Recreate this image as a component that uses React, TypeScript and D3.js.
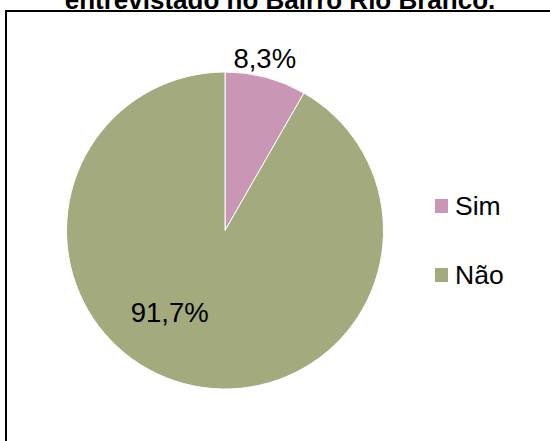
import React from "react";
import * as d3 from "d3";

const categories = ["Sim", "Não"];
const values = [8.3, 91.7];
const valueLabels = ["8,3%", "91,7%"];
const colors = ["#C997B5", "#A2AA7E"];
const title = "entrevistado no Bairro Rio Branco.";

const W = 550;
const H = 441;

interface Slice {
  label: string;
  value: number;
  text: string;
}

const App: React.FC = () => {
  const cx = 225;
  const cy = 230.5;
  const radius = 158.5;

  const data: Slice[] = categories.map((c, i) => ({
    label: c,
    value: values[i],
    text: valueLabels[i],
  }));

  const pie = d3.pie<Slice>().value((d) => d.value).sort(null);
  const arc = d3.arc<d3.PieArcDatum<Slice>>().innerRadius(0).outerRadius(radius);
  const arcs = pie(data);

  // outside label for the small slice, inside (best fit) for the big one
  const outsideArc = d3
    .arc<d3.PieArcDatum<Slice>>()
    .innerRadius(radius * 1.12)
    .outerRadius(radius * 1.12);
  const insideArc = d3
    .arc<d3.PieArcDatum<Slice>>()
    .innerRadius(radius * 0.62)
    .outerRadius(radius * 0.62);
  const nudge: [number, number][] = [
    [-6, 0],
    [-30, -13],
  ];

  const color = d3.scaleOrdinal<string, string>().domain(categories).range(colors);

  const legendY = d3.scalePoint<string>().domain(categories).range([206, 275]);
  const font = "'Liberation Sans', Arial, sans-serif";

  return (
    <svg
      width={W}
      height={H}
      style={{ position: "absolute", left: 0, top: 0, background: "#fff" }}
      fontFamily={font}
    >
      <text
        x={280}
        y={9}
        textAnchor="middle"
        fontWeight="bold"
        fontSize={26}
        fill="#000"
      >
        {title}
      </text>
      {/* chart area border */}
      <path d={`M6,${H + 5} V11 H${W + 5}`} fill="none" stroke="#000" strokeWidth={2} />

      <g transform={`translate(${cx},${cy})`}>
        {arcs.map((a, i) => (
          <path key={i} d={arc(a) || ""} fill={color(a.data.label)} stroke="#fff" strokeWidth={1} />
        ))}
        {arcs.map((a, i) => {
          const [x, y] = (i === 0 ? outsideArc : insideArc).centroid(a);
          return (
            <text
              key={"l" + i}
              x={x + nudge[i][0]}
              y={y + nudge[i][1]}
              textAnchor="middle"
              dominantBaseline="central"
              fontSize={27.5}
              fill="#000"
            >
              {a.data.text}
            </text>
          );
        })}
      </g>

      <g>
        {categories.map((c) => (
          <g key={c} transform={`translate(435,${legendY(c)})`}>
            <rect x={0} y={-7} width={13} height={14} fill={color(c)} />
            <text x={20} y={0} dominantBaseline="central" fontSize={26.5} fill="#000">
              {c}
            </text>
          </g>
        ))}
      </g>
    </svg>
  );
};

export default App;
